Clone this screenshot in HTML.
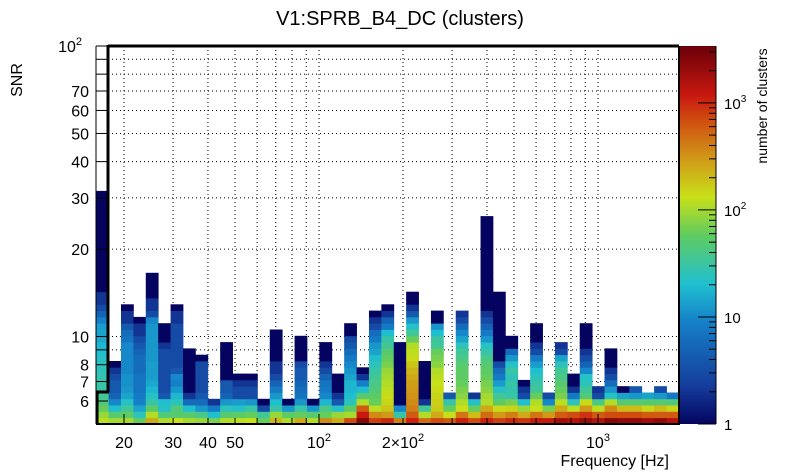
<!DOCTYPE html>
<html><head><meta charset="utf-8">
<style>
html,body{margin:0;padding:0;background:#fff;}
svg{display:block;font-family:"Liberation Sans",Arial,sans-serif;}
</style></head>
<body>
<svg id="chart" width="805" height="472" viewBox="0 0 805 472">
<text x="400" y="25" font-size="20" text-anchor="middle">V1:SPRB_B4_DC (clusters)</text>
<text transform="translate(22,80) rotate(-90)" font-size="16" text-anchor="middle">SNR</text>
<text x="669" y="466" font-size="16" text-anchor="end">Frequency [Hz]</text>
<text transform="translate(767,106) rotate(-90)" font-size="14" text-anchor="middle">number of clusters</text>
<g id="grid"></g>
<g id="cells"></g>
<g id="axes"></g>
<g id="cbar"></g>
</svg>
<script>
// ---- data ----
const xTicks = [20,30,40,50,60,70,80,90,100,200,300,400,500,600,700,800,900,1000];
const xLabels = [[20,"20"],[30,"30"],[40,"40"],[50,"50"],[100,"10^2"],[200,"2×10^2"],[1000,"10^3"]];
const yTicks = [6,7,8,9,10,20,30,40,50,60,70,80,90,100];
const yLabels = [6,7,8,10,20,30,40,50,60,70,100];
const colTops = [37,10,19,17,24,16,19,12,11,4,13,8,8,4,15,4,14,4,13,8,16,9,18,19,13,21,10,18,5,18,5,33,21,14,7,16,5,13,8,16,6,12,6,6,5,6,5];
const colProfiles = [
 [120,90,60,45,35,30,30,28,25,25,22,20,18,15,14,13,9,5,3,2,2],
 [100,50,20,10,5,4,4,3,2,1],
 [100,55,35,22,14,12,11,11,10,10,10,10,10,7,6,4,2,2,1],
 [60,25,14,9,8,7,7,7,6,6,6,5,4,3,2,2,1],
 [250,110,55,30,22,18,15,13,13,13,12,12,12,12,12,12,10,3,2,2],
 [110,45,22,20,4,3,3,3,3,3,3,3,2],
 [130,50,45,25,18,12,9,10,4,3,3,3,3,3,3,3,2,2],
 [100,50,20,6,2],
 [90,40,12,6,4,3,3,3,3,3],
 [70,20,8,2],
 [110,50,25,12,5,4,4],
 [120,55,22,13,3,3,2],
 [130,60,30,12,3,3,2],
 [60,35,3,1],
 [220,90,30,20,12,8,5,3,2,2],
 [110,55,12,1],
 [250,60,30,12,7,6,5,4,4,3],
 [110,50,12,1],
 [350,60,40,18,10,8,7,5,3,2],
 [250,90,22,4,2],
 [700,100,55,25,20,18,18,14,12,10,8,6,4,3],
 [2500,1200,600,110,50,20,9,2],
 [800,350,120,60,55,45,40,35,30,25,20,14,12,8,6,3,2],
 [1000,300,180,150,140,120,110,100,90,70,60,50,35,30,20,8,5,2],
 [400,30,10],
 [1100,600,400,350,320,300,280,250,220,180,140,120,110,60,35,22,12,4,2],
 [500,110,35,2],
 [700,250,170,160,150,140,130,120,110,80,70,60,35,32,20,12],
 [600,130,60,30,4],
 [1100,450,130,110,80,70,60,55,55,50,40,35,25,14,10,6,3,2],
 [700,200,60,22,2],
 [1100,500,250,110,100,80,70,60,55,50,40,30,22,12,8,5,3,2],
 [800,300,140,55,35,22,13,8,6,3],
 [1000,400,150,70,30,28,30,25,30,22,12,6],
 [900,250,90,20,3,2],
 [1200,450,130,110,60,35,30,25,20,13,8,3,2],
 [1200,300,70,10,3],
 [1800,600,250,120,70,60,50,40,35,25,14,3,2],
 [1500,700,120,25,8,2],
 [2000,900,300,140,45,35,25,22,10,5,3,2],
 [1500,600,120,40,3,2],
 [2500,700,350,110,22,12,6,3,2],
 [2200,700,200,50,14,1],
 [2200,700,200,50,12,4],
 [1800,600,150,50,14],
 [2200,600,200,50,12,3],
 [1500,600,150,45,8]
];
const cbarTicks = [1,10,100,1000];

// ---- axes ----
const NS='http://www.w3.org/2000/svg';
const PL=96, PR=679, PT=46, PB=424;
const FMIN=15.9, FMAX=1950, SMIN=5, SMAX=100, NYB=60, CMAX=3400;
function xScale(f){return 319+279*Math.log10(f/100);}
function yScale(s){return PB-(PB-PT)*Math.log10(s/SMIN)/Math.log10(SMAX/SMIN);}
function cScale(c){return 424-(424-46)*Math.log10(c)/Math.log10(CMAX);}
const stops=[[0,[4,4,96]],[0.1,[21,60,156]],[0.27,[21,128,200]],[0.37,[32,192,208]],[0.5,[96,204,96]],[0.6,[200,224,24]],[0.7,[208,154,24]],[0.8,[208,80,16]],[0.87,[200,24,16]],[1,[106,0,8]]];
function color(c){
  let t=Math.max(0,Math.min(1,Math.log10(c)/Math.log10(CMAX)));
  for(let i=1;i<stops.length;i++){ if(t<=stops[i][0]){const a=stops[i-1],b=stops[i];const u=(t-a[0])/(b[0]-a[0]);
    const r=a[1].map((v,k)=>Math.round(v+(b[1][k]-v)*u));return `rgb(${r[0]},${r[1]},${r[2]})`;}}
  return 'rgb(106,0,8)';
}
function mk(tag,attrs,parent){const e=document.createElementNS(NS,tag);for(const k in attrs)e.setAttribute(k,attrs[k]);parent.appendChild(e);return e;}

const grid=document.getElementById('grid');
xTicks.forEach(f=>{const x=xScale(f);
  const l=mk('line',{x1:x,x2:x,y1:PT,y2:PB,stroke:'#000','stroke-width':1,'stroke-dasharray':'1,3'},grid);
  
  });
yTicks.forEach(s=>{const y=yScale(s);
  const l=mk('line',{x1:108,x2:PR,y1:y,y2:y,stroke:'#000','stroke-width':1,'stroke-dasharray':'1,3'},grid);
  
  });

// ---- cells ----
const cells=document.getElementById('cells');
const nCols=colTops.length;
const lf0=Math.log10(FMIN), lf1=Math.log10(FMAX);
const ls0=Math.log10(SMIN), ls1=Math.log10(SMAX);
for(let i=0;i<nCols;i++){
  const fa=Math.pow(10,lf0+i*(lf1-lf0)/nCols), fb=Math.pow(10,lf0+(i+1)*(lf1-lf0)/nCols);
  const xa=xScale(fa), xb=xScale(fb);
  for(let k=0;k<colTops[i];k++){
    const c = k<colProfiles[i].length ? colProfiles[i][k] : 1;
    const sa=Math.pow(10,ls0+k*(ls1-ls0)/NYB), sb=Math.pow(10,ls0+(k+1)*(ls1-ls0)/NYB);
    const ya=yScale(sa), yb=yScale(sb);
    const r=mk('rect',{x:xa.toFixed(2),y:yb.toFixed(2),width:(xb-xa+0.4).toFixed(2),height:(ya-yb+0.4).toFixed(2),fill:color(c)},cells);
    
    
  }
}

// ---- axes / frame ----
const ax=document.getElementById('axes');
mk('line',{x1:108,x2:PR,y1:PT,y2:PT,stroke:'#000','stroke-width':3},ax);
mk('line',{x1:108,x2:108,y1:PT-1,y2:392,stroke:'#000','stroke-width':3},ax);
mk('line',{x1:96,x2:109,y1:392,y2:392,stroke:'#000','stroke-width':3},ax);
mk('line',{x1:97,x2:97,y1:391,y2:PB,stroke:'#000','stroke-width':3},ax);
mk('line',{x1:96,x2:96,y1:PT,y2:392,stroke:'#000','stroke-width':1},ax);
mk('line',{x1:96,x2:PR+1,y1:PB,y2:PB,stroke:'#000','stroke-width':2},ax);
mk('line',{x1:PR,x2:PR,y1:PT,y2:PB,stroke:'#000','stroke-width':2},ax);
yTicks.forEach(s=>{const y=yScale(s);mk('line',{x1:96,x2:108,y1:y,y2:y,stroke:'#000','stroke-width':1},ax);});
xTicks.forEach(f=>{const x=xScale(f);mk('line',{x1:x,x2:x,y1:PB,y2:PB-(f===100||f===1000||f===20?10:6),stroke:'#000','stroke-width':1},ax);});
xLabels.forEach(([f,l])=>{
  const t=mk('text',{x:xScale(f),y:448,'font-size':16,'text-anchor':'middle'},ax);
  if(l.indexOf('^')>=0){const p=l.split('^');t.textContent=p[0];const sp=mk('tspan',{dy:-7,'font-size':11},t);sp.textContent=p[1];}
  else t.textContent=l;
  
  
});
yLabels.forEach(s=>{
  const t=mk('text',{x:s===100?82:89,y:yScale(s)+6,'font-size':16,'text-anchor':'end'},ax);
  if(s===100){t.textContent='10';const sp=mk('tspan',{dy:-7,'font-size':11},t);sp.textContent='2';}
  else t.textContent=String(s);
  
  
});

// ---- colorbar ----
const cb=document.getElementById('cbar');
const defs=mk('defs',{},cb);
const lg=mk('linearGradient',{id:'cg',x1:0,y1:1,x2:0,y2:0},defs);
stops.forEach(s=>mk('stop',{offset:s[0],'stop-color':`rgb(${s[1].join(',')})`},lg));
const bar=mk('rect',{x:680,y:46,width:36,height:378,fill:'url(#cg)'},cb);


mk('line',{x1:716,x2:716,y1:46,y2:424,stroke:'#000','stroke-width':1},cb);
for(let d=0;d<4;d++){for(let m=1;m<10;m++){const v=m*Math.pow(10,d);if(v>CMAX)break;const y=cScale(v);
  mk('line',{x1:716-(m===1?18:7),x2:716,y1:y,y2:y,stroke:'#000','stroke-width':1},cb);}}
cbarTicks.forEach(v=>{
  const t=mk('text',{x:724,y:cScale(v)+(v===1?6:6),'font-size':15},cb);
  if(v>=100){t.textContent='10';const sp=mk('tspan',{dy:-7,'font-size':10},t);sp.textContent=String(Math.log10(v));}
  else t.textContent=String(v);
  
  
});
</script>
</body></html>
